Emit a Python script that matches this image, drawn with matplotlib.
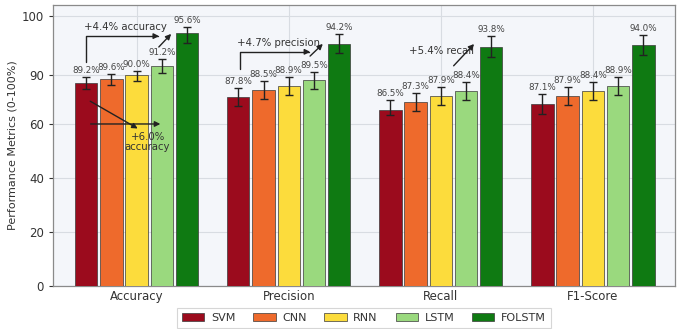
import numpy as np
import matplotlib
matplotlib.use("Agg")
import matplotlib.pyplot as plt

# ---- data ----
metrics = ["Accuracy", "Precision", "Recall", "F1-Score"]
models = ["SVM", "CNN", "RNN", "LSTM", "FOLSTM"]
svm = [89.2, 87.8, 86.5, 87.1]
cnn = [89.6, 88.5, 87.3, 87.9]
rnn = [90.0, 88.9, 87.9, 88.4]
lstm = [91.2, 89.5, 88.4, 88.9]
folstm = [95.6, 94.2, 93.8, 94.0]
svm_err = [0.6, 0.9, 1.0, 1.0]
cnn_err = [0.6, 0.9, 0.9, 0.9]
rnn_err = [0.6, 0.9, 0.9, 0.9]
lstm_err = [0.9, 0.9, 0.9, 0.9]
folstm_err = [1.3, 1.3, 1.4, 1.3]
y_ticks = [0, 20, 40, 60, 90, 100]

values = [svm, cnn, rnn, lstm, folstm]
errors = [svm_err, cnn_err, rnn_err, lstm_err, folstm_err]
colors = ["#9b0b1d", "#ee6a2c", "#fcdc3c", "#9ad97e", "#0f7a12"]

# piecewise-linear value axis: compressed low range, expanded high range
knot_v = np.array([-100, 0, 20, 40, 60, 86, 90, 96, 100, 200], dtype=float)
knot_u = np.array([-5, 0, 1, 2, 3, 3.17, 3.9, 4.736, 5.0, 12.0])


def fwd(v):
    return np.interp(v, knot_v, knot_u)


def inv(u):
    return np.interp(u, knot_u, knot_v)


fig = plt.figure(figsize=(6.86, 3.29), dpi=100, facecolor="white")
ax = fig.add_axes([0.0773, 0.1316, 0.9067, 0.8534])
ax.set_facecolor("#f4f6fa")
ax.set_yscale("function", functions=(fwd, inv))

x = np.arange(len(metrics))
step = 0.166
width = 0.147
for j, (name, vals, errs, col) in enumerate(zip(models, values, errors, colors)):
    xs = x + (j - 2) * step
    ax.bar(xs, vals, width, color=col, edgecolor="#3a3a3a", linewidth=0.5,
           label=name, zorder=3)
    ax.errorbar(xs, vals, yerr=errs, fmt="none", ecolor="#222222",
                elinewidth=1.0, capsize=3, capthick=1.0, zorder=4)
    for xi, v, e in zip(xs, vals, errs):
        ax.annotate(f"{v:.1f}%", (xi, v + e), xytext=(0, 1.5),
                    textcoords="offset points", ha="center", va="bottom",
                    fontsize=6.3, color="#444444", zorder=5)

ax.set_xlim(-0.55, 3.54)
ax.set_ylim(0, 102.86)
ax.set_yticks(y_ticks)
ax.set_yticklabels([str(t) for t in y_ticks])
ax.set_xticks(x)
ax.set_xticklabels(metrics)
ax.tick_params(axis="both", labelsize=8.5, colors="#333333", length=3,
               width=0.8)
ax.tick_params(axis="x", length=0, pad=3)
ax.set_ylabel("Performance Metrics (0-100%)", fontsize=8, color="#333333",
              labelpad=3)
ax.grid(True, color="#d8dce2", linewidth=0.8, zorder=0)
for s in ax.spines.values():
    s.set_color("#8a8a8a")
    s.set_linewidth(0.9)

# improvement call-outs
arrow_kw = dict(arrowstyle="-|>", color="#222222", lw=1.0, mutation_scale=8)
tc = "#333333"
fs = 7.3

ax.annotate("", xy=(0.175, 0.889), xytext=(0.053, 0.786),
            xycoords="axes fraction", textcoords="axes fraction",
            arrowprops=dict(connectionstyle="angle,angleA=90,angleB=0,rad=0",
                            **arrow_kw), zorder=6)
ax.text(0.116, 0.921, "+4.4% accuracy", transform=ax.transAxes,
        ha="center", va="center", fontsize=fs, color=tc, zorder=6)
ax.annotate("", xy=(0.193, 0.904), xytext=(0.167, 0.843),
            xycoords="axes fraction", textcoords="axes fraction",
            arrowprops=arrow_kw, zorder=6)

ax.annotate("", xy=(0.140, 0.555), xytext=(0.056, 0.662),
            xycoords="axes fraction", textcoords="axes fraction",
            arrowprops=arrow_kw, zorder=6)
ax.annotate("", xy=(0.177, 0.576), xytext=(0.056, 0.576),
            xycoords="axes fraction", textcoords="axes fraction",
            arrowprops=arrow_kw, zorder=6)
ax.text(0.152, 0.512, "+6.0%\naccuracy", transform=ax.transAxes,
        ha="center", va="center", fontsize=fs, color=tc, linespacing=1.0,
        zorder=6)

ax.annotate("", xy=(0.418, 0.833), xytext=(0.301, 0.761),
            xycoords="axes fraction", textcoords="axes fraction",
            arrowprops=dict(connectionstyle="angle,angleA=90,angleB=0,rad=0",
                            **arrow_kw), zorder=6)
ax.text(0.363, 0.865, "+4.7% precision", transform=ax.transAxes,
        ha="center", va="center", fontsize=fs, color=tc, zorder=6)
ax.annotate("", xy=(0.437, 0.868), xytext=(0.410, 0.811),
            xycoords="axes fraction", textcoords="axes fraction",
            arrowprops=arrow_kw, zorder=6)

ax.text(0.624, 0.836, "+5.4% recall", transform=ax.transAxes,
        ha="center", va="center", fontsize=fs, color=tc, zorder=6)
ax.annotate("", xy=(0.680, 0.868), xytext=(0.641, 0.776),
            xycoords="axes fraction", textcoords="axes fraction",
            arrowprops=arrow_kw, zorder=6)

leg = ax.legend(loc="upper center", bbox_to_anchor=(0.5, -0.058), ncol=5,
                fontsize=8, frameon=True, fancybox=False, handlelength=2.0,
                handleheight=0.8, columnspacing=1.6, handletextpad=0.6,
                borderpad=0.45)
leg.get_frame().set_edgecolor("#cccccc")
leg.get_frame().set_linewidth(0.8)
for t in leg.get_texts():
    t.set_color("#333333")

fig.savefig("out.png", dpi=100, facecolor=fig.get_facecolor())
